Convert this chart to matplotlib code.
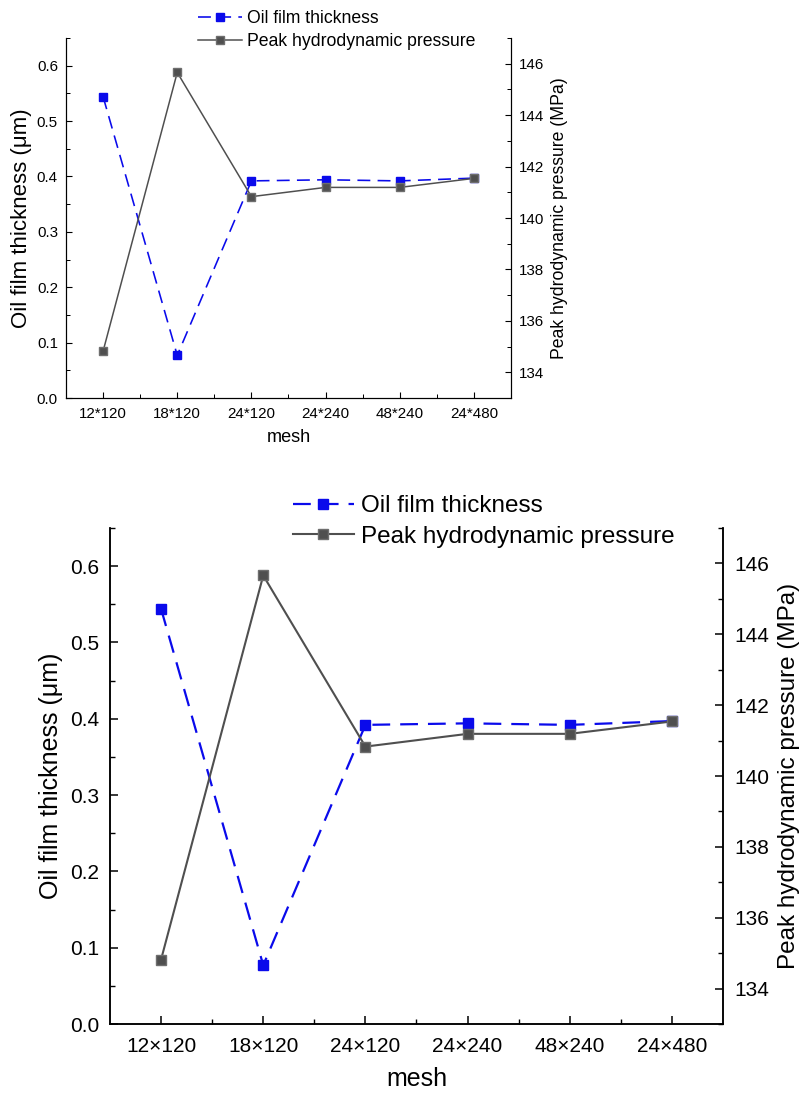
import matplotlib
matplotlib.use('Agg')
import matplotlib.pyplot as plt
from matplotlib.ticker import MultipleLocator, FixedLocator

plt.rcParams['font.family'] = ['Liberation Sans', 'DejaVu Sans']

mesh_star = ['12*120', '18*120', '24*120', '24*240', '48*240', '24*480']
mesh_times = ['12\u00d7120', '18\u00d7120', '24\u00d7120', '24\u00d7240', '48\u00d7240', '24\u00d7480']
thickness = [0.544, 0.077, 0.392, 0.394, 0.392, 0.397]
pressure = [134.82, 145.66, 140.83, 141.19, 141.19, 141.54]

blue = '#0a0aeb'
gray = '#4f4f4f'


def draw(fig, rect, labels, s, leg_anchor, left_label_size):
    # s = scale factor for fonts / markers
    ax = fig.add_axes(rect)
    ax2 = ax.twinx()
    x = list(range(len(labels)))

    l1, = ax.plot(x, thickness, color=blue, ls=(0, (8, 4.5)), lw=1.6 * s,
                  marker='s', ms=7 * s, mec=blue, mfc=blue,
                  label='Oil film thickness')
    l2, = ax2.plot(x, pressure, color=gray, ls='-', lw=1.5 * s,
                   marker='s', ms=7.5 * s, mec='#6e6e6e', mfc=gray,
                   label='Peak hydrodynamic pressure')

    ax.set_xlim(-0.5, len(labels) - 0.5)
    ax.set_ylim(0, 0.65)
    ax2.set_ylim(133, 147)

    ax.set_xticks(x)
    ax.set_xticklabels(labels)
    ax.xaxis.set_minor_locator(FixedLocator([i + 0.5 for i in x[:-1]]))
    ax.yaxis.set_major_locator(MultipleLocator(0.1))
    ax.yaxis.set_minor_locator(MultipleLocator(0.05))
    ax2.yaxis.set_major_locator(MultipleLocator(2))
    ax2.yaxis.set_minor_locator(MultipleLocator(1))

    for a in (ax, ax2):
        a.spines['top'].set_visible(False)
        for sp in ('left', 'right', 'bottom'):
            a.spines[sp].set_linewidth(1.1 * s)
        a.tick_params(which='major', direction='in', length=6 * s,
                      width=1.1 * s, labelsize=15 * s, pad=8 * s)
        a.tick_params(which='minor', direction='in', length=3.5 * s,
                      width=1.0 * s)
    ax.tick_params(axis='y', which='both', right=False)
    ax.tick_params(axis='x', pad=9 * s)
    ax2.tick_params(axis='y', which='both', left=False)

    ax.set_xlabel('mesh', fontsize=18 * s, labelpad=8 * s)
    ax.set_ylabel('Oil film thickness (\u03bcm)', fontsize=left_label_size)
    ax2.set_ylabel('Peak hydrodynamic pressure (MPa)', fontsize=17.5 * s)
    ax.yaxis.set_label_coords(-0.077, 0.5)
    ax2.yaxis.set_label_coords(1.09, 0.5)

    fig.legend(handles=[l1, l2], loc='upper left', bbox_to_anchor=leg_anchor,
               frameon=False, fontsize=17.5 * s, handlelength=2.5,
               handletextpad=0.3, labelspacing=0.35, borderpad=0,
               borderaxespad=0)
    return ax, ax2


fig = plt.figure(figsize=(8.03, 10.94), dpi=100)

W, H = 803.0, 1094.0
# top (small) chart
draw(fig, [66 / W, 1 - 398 / H, 445 / W, 360 / H], mesh_star, 0.726,
     (198 / W, 1 - 10 / H), 16)
# bottom (large) chart
draw(fig, [110 / W, 1 - 1024 / H, 613 / W, 496 / H], mesh_times, 1.0,
     (293 / W, 1 - 495 / H), 18)

fig.savefig('out.png', dpi=100)
